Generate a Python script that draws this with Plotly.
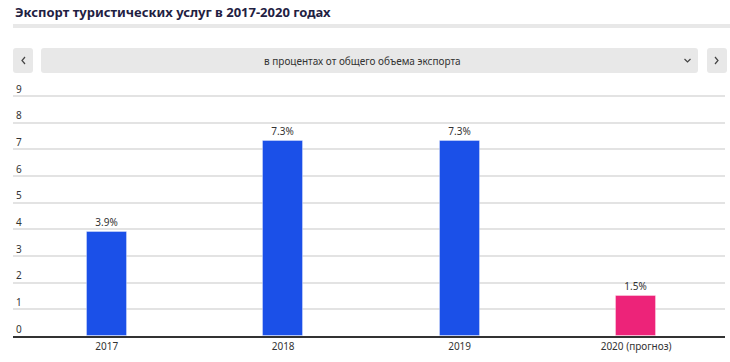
import plotly.graph_objects as go

years = ["2017", "2018", "2019", "2020 (прогноз)"]
values = [3.9, 7.3, 7.3, 1.5]
bar_colors = ["#1b50e8", "#1b50e8", "#1b50e8", "#ed2379"]
y_ticks = [0, 1, 2, 3, 4, 5, 6, 7, 8, 9]
title_text = "Экспорт туристических услуг в 2017-2020 годах"
selector_text = "в процентах от общего объема экспорта"

W, H = 730, 362
ML, MR, MT, MB = 13, 5, 95, 26
PW, PH = W - ML - MR, H - MT - MB


def px(x):
    return (x - ML) / PW


def py(y):
    return (MT + PH - y) / PH


def rrect(x0, y0, x1, y1, r=3):
    X0, X1 = px(x0), px(x1)
    Y0, Y1 = py(y0), py(y1)
    rx, ry = r / PW, r / PH
    return (f"M{X0+rx},{Y0} L{X1-rx},{Y0} Q{X1},{Y0} {X1},{Y0-ry} "
            f"L{X1},{Y1+ry} Q{X1},{Y1} {X1-rx},{Y1} L{X0+rx},{Y1} "
            f"Q{X0},{Y1} {X0},{Y1+ry} L{X0},{Y0-ry} Q{X0},{Y0} {X0+rx},{Y0} Z")


FONT = "Noto Sans, Open Sans, sans-serif"

fig = go.Figure()
fig.add_trace(go.Bar(
    x=years, y=values,
    marker=dict(color=bar_colors, line=dict(color="rgba(255,255,255,0.35)", width=1)),
    width=0.227,
    text=[f"{v:.1f}%" for v in values],
    textposition="outside",
    textfont=dict(size=10, color="#333333", family=FONT),
    cliponaxis=False,
    hoverinfo="skip",
))

shapes = []
shapes.append(dict(type="rect", xref="paper", yref="paper",
                   x0=px(13), x1=px(730), y0=py(28), y1=py(24),
                   fillcolor="#e8e8e8", line=dict(width=0), layer="below"))
for (a, b) in [(13, 33), (41, 698), (707, 727)]:
    shapes.append(dict(type="path", xref="paper", yref="paper",
                       path=rrect(a, 48, b, 73), fillcolor="#e8e8e8",
                       line=dict(width=0), layer="below"))


def chev(points):
    s = "M" + " L".join(f"{px(x)},{py(y)}" for x, y in points)
    return dict(type="path", xref="paper", yref="paper", path=s,
                line=dict(color="#444444", width=1.2))


shapes.append(chev([(25, 57), (22, 60.5), (25, 64)]))
shapes.append(chev([(715, 57), (718, 60.5), (715, 64)]))
shapes.append(chev([(684.5, 59), (687.5, 62), (690.5, 59)]))

annotations = [
    dict(text=f"<b>{title_text}</b>", xref="paper", yref="paper",
         x=px(13), y=py(12), xanchor="left", yanchor="middle", showarrow=False,
         font=dict(size=13, color="#1f2142", family=FONT)),
    dict(text=selector_text, xref="paper", yref="paper",
         x=px(362), y=py(60.5), xanchor="center", yanchor="middle", showarrow=False,
         font=dict(size=10, color="#333333", family=FONT)),
]

fig.update_layout(
    width=W, height=H,
    margin=dict(l=ML, r=MR, t=MT, b=MB),
    paper_bgcolor="white", plot_bgcolor="white",
    showlegend=False,
    shapes=shapes, annotations=annotations,
    font=dict(family=FONT, size=10, color="#333333"),
    bargap=0,
)
fig.update_xaxes(
    type="category", range=[-0.531, 3.504],
    showgrid=False, showline=True, linecolor="#333333", linewidth=2,
    ticks="", tickfont=dict(size=10, color="#333333", family=FONT),
    fixedrange=True,
)
fig.update_yaxes(
    range=[0, 9.04], tickvals=y_ticks, ticktext=[str(t) for t in y_ticks],
    showgrid=True, gridcolor="#e3e3e3", gridwidth=1.5,
    zeroline=False, ticks="",
    ticklabelposition="inside top", ticklabeloverflow="allow",
    tickfont=dict(size=10, color="#333333", family=FONT),
    fixedrange=True,
)

fig.write_html("out.html", config={"displayModeBar": False},
               post_script="document.body.style.margin='0';")
